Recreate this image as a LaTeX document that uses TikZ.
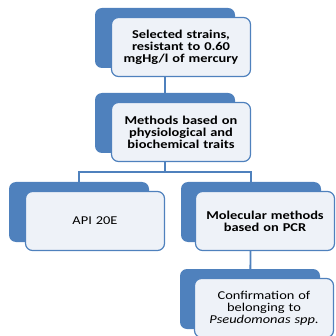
\documentclass[tikz,border=0pt]{standalone}
\usepackage{fontspec}
\setmainfont{Carlito}[FakeStretch=1.2]
\usetikzlibrary{positioning,backgrounds}
\definecolor{hgblue}{HTML}{4F81BD}
\definecolor{hgpale}{HTML}{EEF2F8}
\tikzset{
    back/.style={fill=hgblue, rounded corners=7pt, minimum width=140pt, minimum height=60pt, inner sep=0pt},
    front/.style={fill=hgpale, draw=hgblue, line width=1.2pt, rounded corners=7pt, minimum width=139pt, minimum height=59pt,
                  text width=136pt, align=center, inner sep=0pt, font=\fontsize{12}{12}\selectfont},
    link/.style={draw=hgblue, line width=1.8pt}
}

\begin{document}
\begin{tikzpicture}[x=1pt,y=-1pt]
    \useasboundingbox (0,0) rectangle (335,336);
    %
    \node[back] (sel)  at (165,38)  {};
    \node[back] (meth) at (165,123) {};
    \node[back] (api)  at (79,212)  {};
    \node[back] (mol)  at (251,212) {};
    \node[back] (conf) at (250,299) {};
    %
    \node[front] (selT)  at ([shift={(16,9)}]sel.center)  {\bfseries Selected strains,\\ resistant to 0.60\\ mgHg/l of mercury};
    \node[front] (methT) at ([shift={(16,9)}]meth.center) {\bfseries Methods based on\\ physiological and\\ biochemical traits};
    \node[front] (apiT)  at ([shift={(16,9)}]api.center)  {API 20E};
    \node[front] (molT)  at ([shift={(14,9)}]mol.center)  {\bfseries Molecular methods\\ based on PCR};
    \node[front] (confT) at ([shift={(14,9)}]conf.center) {Confirmation of\\ belonging to\\ \textit{Pseudomonas spp.}};
    %
    \begin{scope}[on background layer]
        \draw[link] (sel) -- (meth);
        \draw[link] (meth.south) -- ++(0,18.5) -| (api.north);
        \draw[link] (meth.south) -- ++(0,18.5) -| (mol.north);
        \draw[link] (mol) -- (conf);
    \end{scope}
\end{tikzpicture}
\end{document}
